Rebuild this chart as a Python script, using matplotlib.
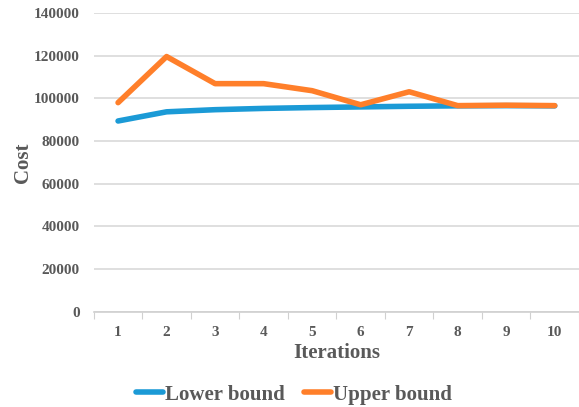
import matplotlib.pyplot as plt

# data
iteracoes = [1, 2, 3, 4, 5, 6, 7, 8, 9, 10]
lower_bound = [89400, 93700, 94700, 95300, 95700, 96000, 96300, 96500, 96600, 96500]
upper_bound = [98000, 119600, 106900, 106900, 103600, 97000, 103100, 96600, 96800, 96600]
y_ticks = [0, 20000, 40000, 60000, 80000, 100000, 120000, 140000]

cinza = '#595959'
azul = '#1B9AD6'
laranja = '#FF7F2A'

plt.rcParams['font.family'] = ['Liberation Serif', 'DejaVu Serif']
plt.rcParams['font.weight'] = 'bold'

fig = plt.figure(figsize=(5.79, 4.07), dpi=100)
ax = fig.add_axes([0.162, 0.234, 0.838, 0.734])

ax.plot(iteracoes, lower_bound, color=azul, lw=4, solid_capstyle='round', label='Lower bound')
ax.plot(iteracoes, upper_bound, color=laranja, lw=4, solid_capstyle='round', label='Upper bound')

ax.set_xlim(0.5, 10.5)
ax.set_ylim(0, 140000)
ax.set_yticks(y_ticks)
ax.set_yticklabels([str(v) for v in y_ticks], fontsize=11, color=cinza, fontweight='bold')
ax.set_xticks(iteracoes)
ax.set_xticklabels([str(v) for v in iteracoes], fontsize=11, color=cinza, fontweight='bold')
ax.set_xticks([i + 0.5 for i in range(0, 11)], minor=True)
ax.tick_params(axis='x', which='major', length=0, pad=10)
ax.tick_params(axis='x', which='minor', length=5, color='#d0d0d0', width=0.8)
ax.tick_params(axis='y', length=0, pad=10)

ax.grid(True, axis='y', color='#d9d9d9', linewidth=1.2)
ax.set_axisbelow(True)
for s in ['top', 'right', 'left']:
    ax.spines[s].set_visible(False)
ax.spines['bottom'].set_color('#d0d0d0')
ax.spines['bottom'].set_linewidth(1.2)

ax.set_xlabel('Iterations', fontsize=15, color=cinza, fontweight='bold', labelpad=3)
ax.set_ylabel('Cost', fontsize=15, color=cinza, fontweight='bold', labelpad=1)

fig.legend(loc='center', bbox_to_anchor=(0.508, 0.03), ncol=2, frameon=False,
           prop={'size': 15, 'weight': 'bold'}, labelcolor=cinza,
           handlelength=1.3, handletextpad=0.1, columnspacing=0.9)

fig.savefig('out.png', dpi=100)
